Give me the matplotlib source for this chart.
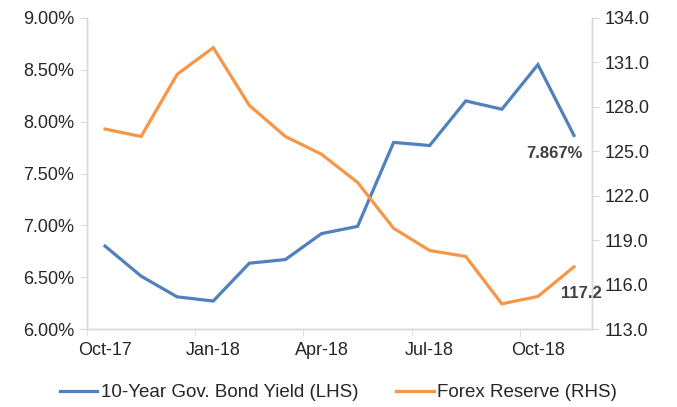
import matplotlib.pyplot as plt
import numpy as np
from matplotlib.ticker import FixedLocator, NullFormatter

plt.rcParams['font.family'] = ['Liberation Sans', 'DejaVu Sans']

# monthly data, Oct-17 .. Nov-18
months = ['Oct-17', 'Nov-17', 'Dec-17', 'Jan-18', 'Feb-18', 'Mar-18', 'Apr-18',
          'May-18', 'Jun-18', 'Jul-18', 'Aug-18', 'Sep-18', 'Oct-18', 'Nov-18']
bond_yield = [6.80, 6.51, 6.31, 6.27, 6.635, 6.67, 6.92, 6.99, 7.80, 7.77, 8.20, 8.12, 8.55, 7.867]
forex = [126.5, 126.0, 130.2, 132.0, 128.1, 126.0, 124.8, 122.9, 119.8, 118.3, 117.9, 114.7, 115.2, 117.2]
label_every = 3

blue = '#4F81BD'
orange = '#F79646'
grid_c = '#D9D9D9'
txt_c = '#262626'

fig = plt.figure(figsize=(6.77, 4.07), dpi=100)
ax = fig.add_axes([0.1285, 0.1916, 0.7460, 0.7642])
ax2 = ax.twinx()

x = np.arange(len(months))
l1, = ax.plot(x, bond_yield, color=blue, lw=2.3, solid_joinstyle='miter')
l2, = ax2.plot(x, forex, color=orange, lw=2.3, solid_joinstyle='miter')

ax.set_xlim(-0.5, len(months) - 0.5)
ax.set_ylim(6.0, 9.0)
ax2.set_ylim(113, 134)

ax.set_yticks(np.arange(6.0, 9.01, 0.5))
ax.set_yticklabels([f'{v:.2f}%' for v in np.arange(6.0, 9.01, 0.5)])
ax2.set_yticks(np.arange(113, 134.1, 3))
ax2.set_yticklabels([f'{v:.1f}' for v in np.arange(113, 134.1, 3)])

ax.set_xticks(x[::label_every])
ax.set_xticklabels(months[::label_every])
ax.xaxis.set_minor_locator(FixedLocator(np.arange(-0.5, len(months), label_every)))
ax.xaxis.set_minor_formatter(NullFormatter())
ax.tick_params(axis='x', which='major', length=0, pad=9, labelsize=13, colors=txt_c)
ax.tick_params(axis='x', which='minor', length=5, color=grid_c, direction='out')
ax.tick_params(axis='y', length=5, color=grid_c, labelsize=13, labelcolor=txt_c, pad=4)
ax2.tick_params(axis='y', length=5, color=grid_c, labelsize=13, labelcolor=txt_c, pad=4)

for a in (ax, ax2):
    a.spines['top'].set_visible(False)
    for s in ('left', 'right', 'bottom'):
        a.spines[s].set_color(grid_c)
        a.spines[s].set_linewidth(1)

ax.annotate(f'{bond_yield[-1]:.3f}%', (x[-1], bond_yield[-1]), xytext=(-14, -13),
            textcoords='offset points', ha='center', va='center',
            fontsize=12, fontweight='bold', color='#404040')
ax2.annotate(f'{forex[-1]:.1f}', (x[-1], forex[-1]), xytext=(5, -19),
             textcoords='offset points', ha='center', va='center',
             fontsize=12, fontweight='bold', color='#404040')

fig.legend([l1, l2], ['10-Year Gov. Bond Yield (LHS)', 'Forex Reserve (RHS)'],
           loc='center', bbox_to_anchor=(0.5, 0.035), ncol=2, frameon=False,
           fontsize=13.5, handlelength=2.0, handletextpad=0.2, columnspacing=2.0,
           labelcolor=txt_c)

fig.savefig('out.png', dpi=100)
